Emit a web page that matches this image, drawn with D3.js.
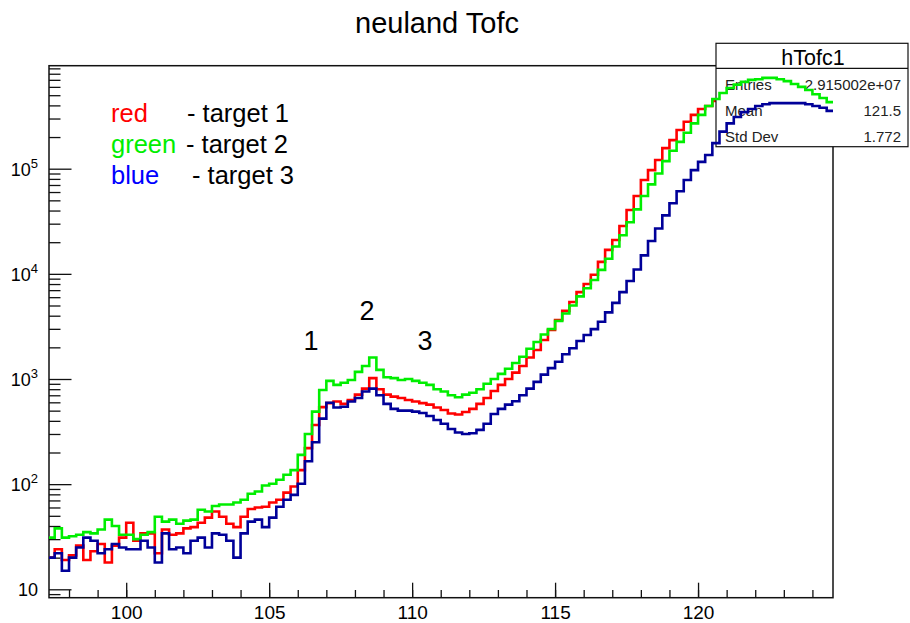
<!DOCTYPE html>
<html>
<head>
<meta charset="utf-8">
<script src="https://cdn.jsdelivr.net/npm/d3@7"></script>
<style>
  body { margin: 0; background: #fff; }
  text { font-family: "Liberation Sans", Arial, Helvetica, sans-serif; }
</style>
</head>
<body>
<svg id="chart" width="910" height="623"></svg>
<script>
// histogram binning (ns)
const binLow = 97.25, binWidth = 0.25;

// counts per bin
const redCounts = [
  20, 24, 19, 21, 26, 19, 23, 27, 18, 26,
  31, 43, 29, 34, 34, 22, 37, 33, 34, 38,
  39, 43, 48, 55, 49, 42, 39, 49, 58, 60,
  61, 67, 71, 83, 95, 136, 220, 365, 540, 590,
  610, 580, 632, 710, 810, 1020, 800, 710, 680, 660,
  632, 610, 590, 570, 535, 508, 470, 460, 485, 520,
  580, 660, 770, 880, 1000, 1150, 1330, 1600, 1890, 2350,
  2920, 3640, 4450, 5400, 6700, 8000, 9800, 13000, 16900, 21000,
  28500, 40500, 55000, 78000, 97000, 121000, 157000, 187000, 233000, 280000,
  325000, 370000, 395000, 442000, 504000, 562000, 605000, 643000, 672000, 682000,
  700000, 700000, 682000, 653000, 614000, 576000, 538000, 490000, 451000, 413000
];
const greenCounts = [
  31, 38, 31, 32, 33, 35, 34, 37, 46, 40,
  33, 33, 30, 33, 35, 49, 44, 46, 42, 45,
  46, 57, 55, 62, 64, 64, 67, 71, 81, 85,
  97, 101, 110, 123, 136, 190, 300, 490, 787, 960,
  880, 920, 979, 1170, 1330, 1600, 1220, 1040, 1020, 979,
  1000, 960, 920, 880, 800, 760, 700, 670, 710, 740,
  800, 900, 1000, 1120, 1250, 1420, 1630, 1940, 2250, 2650,
  2990, 3560, 4200, 5000, 6100, 7300, 8750, 10900, 13900, 18200,
  23300, 31000, 41000, 55000, 71000, 90000, 118000, 148000, 180000, 220000,
  270000, 325000, 395000, 460000, 525000, 585000, 630000, 670000, 700000, 710000,
  730000, 730000, 710000, 680000, 640000, 600000, 560000, 510000, 470000, 430000
];
const blueCounts = [
  20, 22, 15, 20, 25, 31, 29, 22, 24, 27,
  25, 24, 24, 29, 25, 18, 34, 24, 25, 22,
  29, 31, 25, 34, 33, 29, 20, 34, 44, 46,
  39, 48, 61, 71, 79, 101, 165, 250, 420, 595,
  535, 545, 610, 660, 760, 810, 700, 580, 520, 500,
  500, 490, 475, 445, 408, 375, 335, 310, 300, 305,
  328, 375, 465, 520, 570, 615, 700, 810, 940, 1100,
  1270, 1460, 1720, 1960, 2300, 2620, 2980, 3500, 4300, 5300,
  6700, 8550, 11000, 15000, 20500, 27000, 36000, 47000, 61000, 78000,
  97000, 116000, 135000, 175000, 225000, 270000, 310000, 345000, 370000, 395000,
  410000, 420000, 420000, 420000, 420000, 420000, 410000, 395000, 380000, 355000
];

const seriesColors = ["#ff0000", "#00ee00", "#000099"];

const xMajorTicks = [100, 105, 110, 115, 120];
const xMinorTicks = d3.range(98, 125);
const yDecades = [1, 2, 3, 4, 5];

const chartTitle = "neuland Tofc";
const statsTitle = "hTofc1";
const statsLabels = ["Entries", "Mean", "Std Dev"];
const statsValues = ["2.915002e+07", "121.5", "1.772"];

const legendNames = ["red", "green", "blue"];
const legendTexts = ["- target 1", "- target 2", "- target 3"];

const peakLabels = ["1", "2", "3"];
const peakX = [106.46, 108.42, 110.45];
const peakY = [1890, 3640, 1890];

// frame
const frame = {left: 49, top: 65.7, right: 833, bottom: 597.7};

const svg = d3.select("#chart");

const x = d3.scaleLinear().domain([97.3, 124.72]).range([frame.left, frame.right]);
const y = d3.scaleLog().domain([8.32, 9.54e5]).range([frame.bottom, frame.top]);

svg.append("defs").append("clipPath").attr("id", "frameClip")
  .append("rect")
  .attr("x", frame.left).attr("y", frame.top)
  .attr("width", frame.right - frame.left).attr("height", frame.bottom - frame.top);

// title
svg.append("text")
  .attr("x", 437).attr("y", 33)
  .attr("text-anchor", "middle")
  .attr("font-size", 29)
  .text(chartTitle);

// x axis ticks (inward)
svg.append("g")
  .attr("transform", "translate(0," + frame.bottom + ")")
  .call(d3.axisBottom(x).tickValues(xMinorTicks).tickSizeInner(-7.7).tickSizeOuter(0).tickFormat(""))
  .call(g => g.select(".domain").remove());
svg.append("g")
  .attr("transform", "translate(0," + frame.bottom + ")")
  .call(d3.axisBottom(x).tickValues(xMajorTicks).tickSizeInner(-15).tickSizeOuter(0).tickPadding(8))
  .call(g => g.select(".domain").remove())
  .call(g => g.selectAll("text").attr("font-size", 19).attr("fill", "#000")
    .attr("font-family", "Liberation Sans, Arial, sans-serif"));

// y axis ticks (inward)
const isMajor = v => Math.abs(Math.log10(v) - Math.round(Math.log10(v))) < 1e-6;
const yMinor = y.ticks().filter(v => !isMajor(v));
const yMajor = yDecades.map(e => Math.pow(10, e));
svg.append("g")
  .attr("transform", "translate(" + frame.left + ",0)")
  .call(d3.axisLeft(y).tickValues(yMinor).tickSizeInner(-11.5).tickSizeOuter(0).tickFormat(""))
  .call(g => g.select(".domain").remove());
svg.append("g")
  .attr("transform", "translate(" + frame.left + ",0)")
  .call(d3.axisLeft(y).tickValues(yMajor).tickSizeInner(-22.5).tickSizeOuter(0).tickFormat(""))
  .call(g => g.select(".domain").remove());

svg.selectAll(".tick line").attr("stroke", "#111").attr("stroke-width", 1.3);

// y tick labels 10, 10^2 ...
const yLab = svg.append("g");
yDecades.forEach(e => {
  const t = yLab.append("text")
    .attr("x", 38).attr("y", y(Math.pow(10, e)) + 7)
    .attr("text-anchor", "end")
    .attr("font-size", 18);
  t.append("tspan").text("10");
  if (e > 1) {
    t.append("tspan").attr("dy", -8).attr("font-size", 13).text(e);
  }
});

// frame border
svg.append("rect")
  .attr("x", frame.left).attr("y", frame.top)
  .attr("width", frame.right - frame.left).attr("height", frame.bottom - frame.top)
  .attr("fill", "none").attr("stroke", "#111").attr("stroke-width", 1.5);

const histPoints = counts => {
  const pts = counts.map((c, i) => [binLow + i * binWidth, c]);
  pts.push([binLow + counts.length * binWidth, counts[counts.length - 1]]);
  return pts;
};
const line = d3.line()
  .x(d => x(d[0]))
  .y(d => y(d[1]))
  .curve(d3.curveStepAfter);

const plot = svg.append("g").attr("clip-path", "url(#frameClip)");

function drawHist(counts, color) {
  plot.append("path")
    .datum(histPoints(counts))
    .attr("fill", "none")
    .attr("stroke", color)
    .attr("stroke-width", 2.6)
    .attr("d", line);
}

// red first, then stats box, then green and blue on top
drawHist(redCounts, seriesColors[0]);

const box = svg.append("g");
box.append("rect")
  .attr("x", 716).attr("y", 43.3).attr("width", 192).attr("height", 103.4)
  .attr("fill", "#fff").attr("stroke", "#111").attr("stroke-width", 1.2);
box.append("line")
  .attr("x1", 716).attr("x2", 908).attr("y1", 68.3).attr("y2", 68.3)
  .attr("stroke", "#111").attr("stroke-width", 1.2);
box.append("text")
  .attr("x", 813).attr("y", 64.5).attr("text-anchor", "middle")
  .attr("font-size", 21.5).text(statsTitle);
statsLabels.forEach((s, i) => {
  box.append("text").attr("x", 725).attr("y", 89.5 + i * 26.2)
    .attr("font-size", 15).attr("fill", "#222").text(s);
  box.append("text").attr("x", 901).attr("y", 89.5 + i * 26.2)
    .attr("text-anchor", "end")
    .attr("font-size", 15).attr("fill", "#222").text(statsValues[i]);
});

const plotTop = svg.append("g").attr("clip-path", "url(#frameClip)");
[greenCounts, blueCounts].forEach((c, i) => {
  plotTop.append("path")
    .datum(histPoints(c))
    .attr("fill", "none")
    .attr("stroke", seriesColors[i + 1])
    .attr("stroke-width", 2.6)
    .attr("d", line);
});

// legend text
const legendColors = ["#ff0000", "#00ee00", "#0000ff"];
const legendTextX = [187, 186, 192];
legendNames.forEach((n, i) => {
  svg.append("text").attr("x", 111).attr("y", 121.7 + i * 31.3)
    .attr("font-size", 25.5).attr("fill", legendColors[i]).text(n);
  svg.append("text").attr("x", legendTextX[i]).attr("y", 121.7 + i * 31.3)
    .attr("font-size", 25.5).attr("fill", "#000").text(legendTexts[i]);
});

// peak labels
peakLabels.forEach((p, i) => {
  svg.append("text")
    .attr("x", x(peakX[i])).attr("y", y(peakY[i]))
    .attr("text-anchor", "middle")
    .attr("font-size", 27).text(p);
});
</script>
</body>
</html>
